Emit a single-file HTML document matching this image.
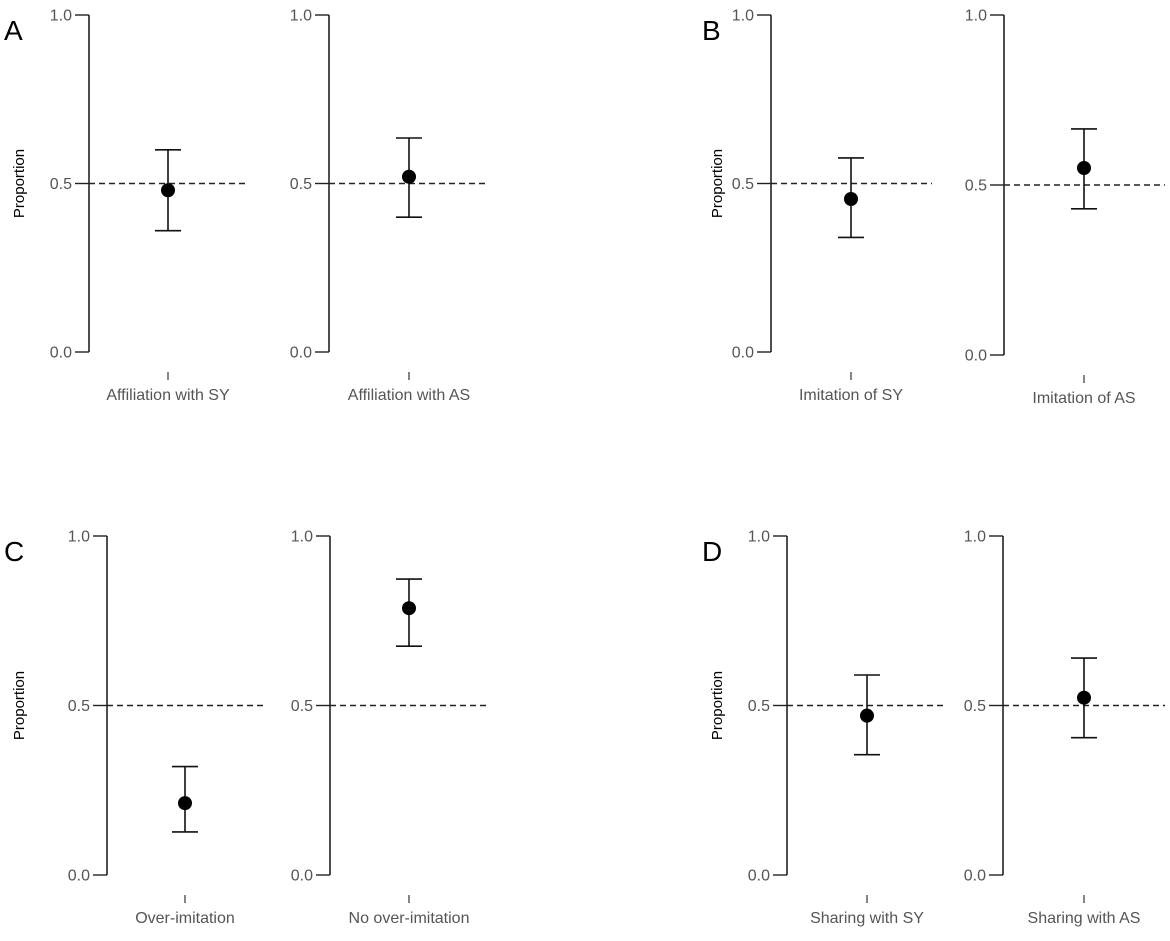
<!DOCTYPE html>
<html><head><meta charset="utf-8"><style>
body{margin:0;background:#fff;}
svg{display:block;font-family:"Liberation Sans",sans-serif;}
</style></head><body>
<svg id="chart" width="1170" height="941"></svg>
<script>
const categories = ["Affiliation with SY","Affiliation with AS","Imitation of SY","Imitation of AS","Over-imitation","No over-imitation","Sharing with SY","Sharing with AS"];
const means = [0.48,0.52,0.454,0.55,0.212,0.787,0.47,0.523];
const lowers = [0.36,0.40,0.34,0.43,0.127,0.675,0.355,0.405];
const uppers = [0.60,0.635,0.576,0.665,0.32,0.873,0.59,0.64];
const yTicks = [0,0.5,1];
const yTickLabels = ["0.0","0.5","1.0"];
const panelLetters = ["A","B","C","D"];

const NS="http://www.w3.org/2000/svg";
const svg=document.getElementById('chart');
function mk(t,a,p){const e=document.createElementNS(NS,t);for(const k in a)e.setAttribute(k,a[k]);(p||svg).appendChild(e);return e;}
// layout (pixel geometry, not data)
const layout=[
 {ax:89,px:168,de:249,y1:15,y0:352},{ax:329,px:409,de:488,y1:15,y0:352},
 {ax:771,px:851,de:932,y1:15,y0:352},{ax:1004,px:1084,de:1165,y1:15,y0:355},
 {ax:107,px:185,de:265,y1:536,y0:875},{ax:330,px:409,de:488,y1:536,y0:875},
 {ax:787,px:867,de:947,y1:536,y0:875},{ax:1003,px:1084,de:1165,y1:536,y0:875}
];
const panelOrigin=[[0,15],[698,15],[0,536],[698,536]];
for(let p=0;p<4;p++){
  const g=mk('g',{});
  
  
  const [ox,oy]=panelOrigin[p];
  const lt=mk('text',{x:ox+4,y:oy+25,'font-size':28,fill:'#000'},g);lt.textContent=panelLetters[p];
  
  
  const L0=layout[p*2];
  const mid=(L0.y0+L0.y1)/2;
  const yl=mk('text',{x:0,y:0,'font-size':15,fill:'#000','text-anchor':'middle',transform:`translate(${ox+24},${mid}) rotate(-90)`},g);yl.textContent='Proportion';
  
  
  for(let s=0;s<2;s++){
    const i=p*2+s;
    const L=layout[i];
    const ys=v=>L.y0+(L.y1-L.y0)*v;
    const ax=L.ax, pointX=L.px;
    const sg=mk('g',{},g);
    
    
    const axl=mk('line',{x1:ax,x2:ax,y1:ys(1),y2:ys(0),stroke:'#222','stroke-width':1.6},sg);
    
    
    yTicks.forEach((t,k)=>{
      mk('line',{x1:ax-14,x2:ax,y1:ys(t),y2:ys(t),stroke:'#222','stroke-width':1.4},sg);
      const tl=mk('text',{x:ax-17,y:ys(t)+5.5,'font-size':16,fill:'#555','text-anchor':'end'},sg);tl.textContent=yTickLabels[k];
      
      
    });
    const ref=mk('line',{x1:ax,x2:L.de,y1:ys(0.5),y2:ys(0.5),stroke:'#222','stroke-width':1.4,'stroke-dasharray':'6,4'},sg);
    
    
    const eb=mk('g',{stroke:'#111','stroke-width':1.6},sg);
    
    
    mk('line',{x1:pointX,x2:pointX,y1:ys(uppers[i]),y2:ys(lowers[i])},eb);
    mk('line',{x1:pointX-13,x2:pointX+13,y1:ys(uppers[i]),y2:ys(uppers[i])},eb);
    mk('line',{x1:pointX-13,x2:pointX+13,y1:ys(lowers[i]),y2:ys(lowers[i])},eb);
    const pt=mk('circle',{cx:pointX,cy:ys(means[i]),r:7,fill:'#000'},sg);
    
    
    mk('line',{x1:pointX,x2:pointX,y1:L.y0+20,y2:L.y0+28,stroke:'#333','stroke-width':1.2},sg);
    const cl=mk('text',{x:pointX,y:L.y0+48,'font-size':16,fill:'#555','text-anchor':'middle'},sg);cl.textContent=categories[i];
    
    
  }
}
</script>
</body></html>
